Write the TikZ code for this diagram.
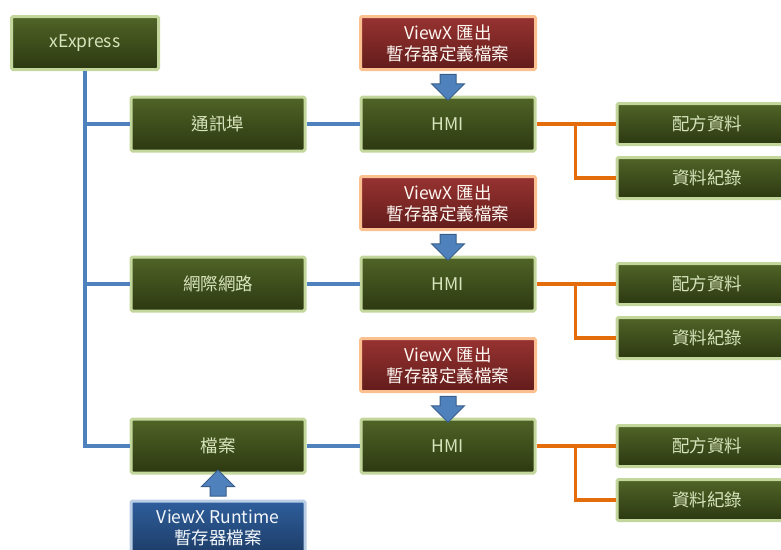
\documentclass[tikz,border=0pt]{standalone}
\usepackage{fontspec}
\setmainfont{Noto Sans CJK TC}
\usetikzlibrary{shapes.arrows,calc}
\definecolor{boxedge}{HTML}{C3D69B}
\definecolor{boxtop}{HTML}{506427}
\definecolor{boxbot}{HTML}{2C3811}
\definecolor{boxtext}{HTML}{D8E4BC}
\definecolor{rededge}{HTML}{FAC090}
\definecolor{redtop}{HTML}{983331}
\definecolor{redbot}{HTML}{611C1B}
\definecolor{blueedge}{HTML}{B9CDE5}
\definecolor{bluetop}{HTML}{2E5E9C}
\definecolor{bluebot}{HTML}{1D3C66}
\definecolor{linkblue}{HTML}{4F81BD}
\definecolor{arrowedge}{HTML}{385D8A}
\definecolor{linkorange}{HTML}{E46C0A}
\tikzset{
	greenbox/.style={draw=boxedge,line width=3pt,rounded corners=1.5pt,
			top color=boxtop,bottom color=boxbot,text=boxtext,
			minimum width=174pt,minimum height=54pt,inner sep=0pt,
			font=\fontsize{17.5}{20}\selectfont},
	redbox/.style={greenbox,draw=rededge,top color=redtop,bottom color=redbot,
			text=white!88!rededge,align=center,font=\fontsize{17.5}{21}\selectfont},
	bluebox/.style={redbox,draw=blueedge,top color=bluetop,bottom color=bluebot,
			text=white!85!blueedge},
	listbox/.style={greenbox,minimum width=180pt,minimum height=41pt},
	blockarrow/.style={single arrow,fill=linkblue,draw=arrowedge,line width=1pt,
			minimum height=26pt,single arrow head extend=8.5pt,
			inner sep=7.5pt},
	bline/.style={draw=linkblue,line width=3.5pt},
	oline/.style={draw=linkorange,line width=3.5pt}
}
\begin{document}
\begin{tikzpicture}[x=1pt,y=-1pt]
	\useasboundingbox (0,0) rectangle (781,549);
	\node[greenbox,minimum width=147pt,minimum height=53pt] (xexp) at (85,43) {xExpress};
	\foreach \i/\y/\lbl in {1/124/通訊埠,2/284/網際網路,3/446/檔案} {
		\node[greenbox] (port\i) at (218,\y) {\lbl};
		\node[greenbox] (hmi\i) at (448,\y) {HMI};
		\node[redbox,minimum width=175pt,minimum height=53pt] (reg\i) at (448,\y-81) {ViewX 匯出\\暫存器定義檔案};
		\node[listbox,anchor=west] (recipe\i) at (615.5,\y) {配方資料};
		\node[listbox,anchor=west] (log\i) at (615.5,\y+54) {資料紀錄};
		\node[blockarrow,shape border rotate=270] at ($(reg\i.south)!0.5!(hmi\i.north)$) {};
		\draw[bline] (port\i.east) -- (hmi\i.west);
		\draw[oline] (hmi\i.east) -- (recipe\i.west);
		\draw[oline] (hmi\i.east) -- ++(39,0) |- (log\i.west);
	}
	% shared bus from xExpress
	\draw[bline] (xexp.south) |- (port3.west);
	\draw[bline] (xexp.south |- port1.west) -- (port1.west);
	\draw[bline] (xexp.south |- port2.west) -- (port2.west);
	\node[bluebox] (runtime) at (218,528) {ViewX Runtime\\暫存器檔案};
	\node[blockarrow,shape border rotate=90] at ($(runtime.north)!0.5!(port3.south)$) {};
\end{tikzpicture}
\end{document}
